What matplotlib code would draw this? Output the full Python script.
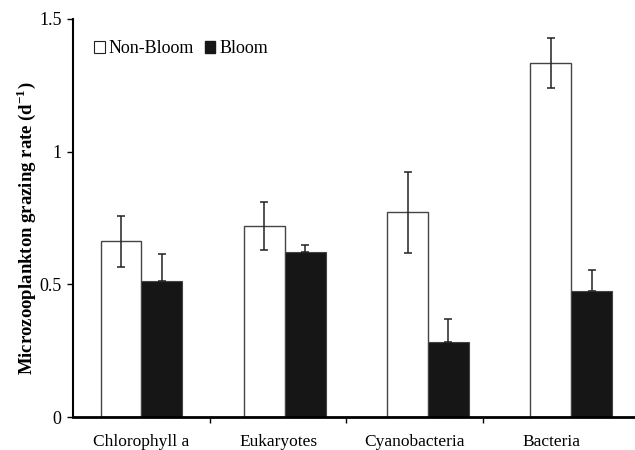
import numpy as np
import matplotlib.pyplot as plt
from matplotlib.patches import Patch

# grazing rates
categories = ["Chlorophyll a", "Eukaryotes", "Cyanobacteria", "Bacteria"]
non_bloom = [0.662, 0.719, 0.772, 1.333]
non_bloom_err = [0.096, 0.090, 0.153, 0.094]
bloom = [0.514, 0.620, 0.282, 0.476]
bloom_err = [0.102, 0.029, 0.086, 0.079]

plt.rcParams['font.family'] = ['Liberation Serif', 'DejaVu Serif']

fig = plt.figure(figsize=(6.35, 4.5), dpi=100)
ax = fig.add_axes([0.1145, 0.0733, 0.8855, 0.8845])

x = np.arange(len(categories))
w = 0.285
ebar = dict(ecolor='#222222', elinewidth=1.1, capsize=3, capthick=1.1)
ax.bar(x - w / 2, non_bloom, w, yerr=non_bloom_err, color='white',
       edgecolor='#444444', linewidth=1.0, error_kw=ebar, label='Non-Bloom')
# only the upper half of the bloom error bars shows above the black bars
ax.bar(x + w / 2, bloom, w, yerr=[np.zeros(len(bloom)), bloom_err],
       color='#161616', edgecolor='#444444', linewidth=0.8, error_kw=ebar,
       label='Bloom')

ax.set_xlim(-0.48, 3.445)
ax.set_ylim(0, 1.5)
ax.set_yticks([0, 0.5, 1, 1.5])
ax.set_yticklabels(['0', '0.5', '1', '1.5'])

# category labels in the original sit a bit tighter than the bars
label_pos = x * 0.954
ax.set_xticks(label_pos)
ax.set_xticklabels(categories)
ax.set_xticks(label_pos[:-1] + 0.954 / 2, minor=True)
ax.tick_params(axis='x', which='major', length=0, pad=12, labelsize=12.5)
ax.tick_params(axis='x', which='minor', length=4, width=1, direction='out')
ax.tick_params(axis='y', length=4, width=1, direction='out', pad=4, labelsize=13)

for s in ['top', 'right']:
    ax.spines[s].set_visible(False)
ax.spines['left'].set_linewidth(1.5)
ax.spines['bottom'].set_linewidth(2)

ax.set_ylabel('Microzooplankton grazing rate (d$^{\\mathregular{-1}}$)',
              fontweight='bold', fontsize=13.5)
ax.yaxis.set_label_coords(-0.061, 0.475)

handles = [Patch(facecolor='white', edgecolor='#222222', linewidth=0.8),
           Patch(facecolor='#161616', edgecolor='#161616')]
ax.legend(handles, ['Non-Bloom', 'Bloom'], loc='upper left', ncol=2,
          frameon=False, fontsize=13, handlelength=0.6, handleheight=0.6,
          handletextpad=0.2, columnspacing=0.6, bbox_to_anchor=(0.025, 0.965),
          borderaxespad=0)

fig.savefig('out.png', dpi=100)
